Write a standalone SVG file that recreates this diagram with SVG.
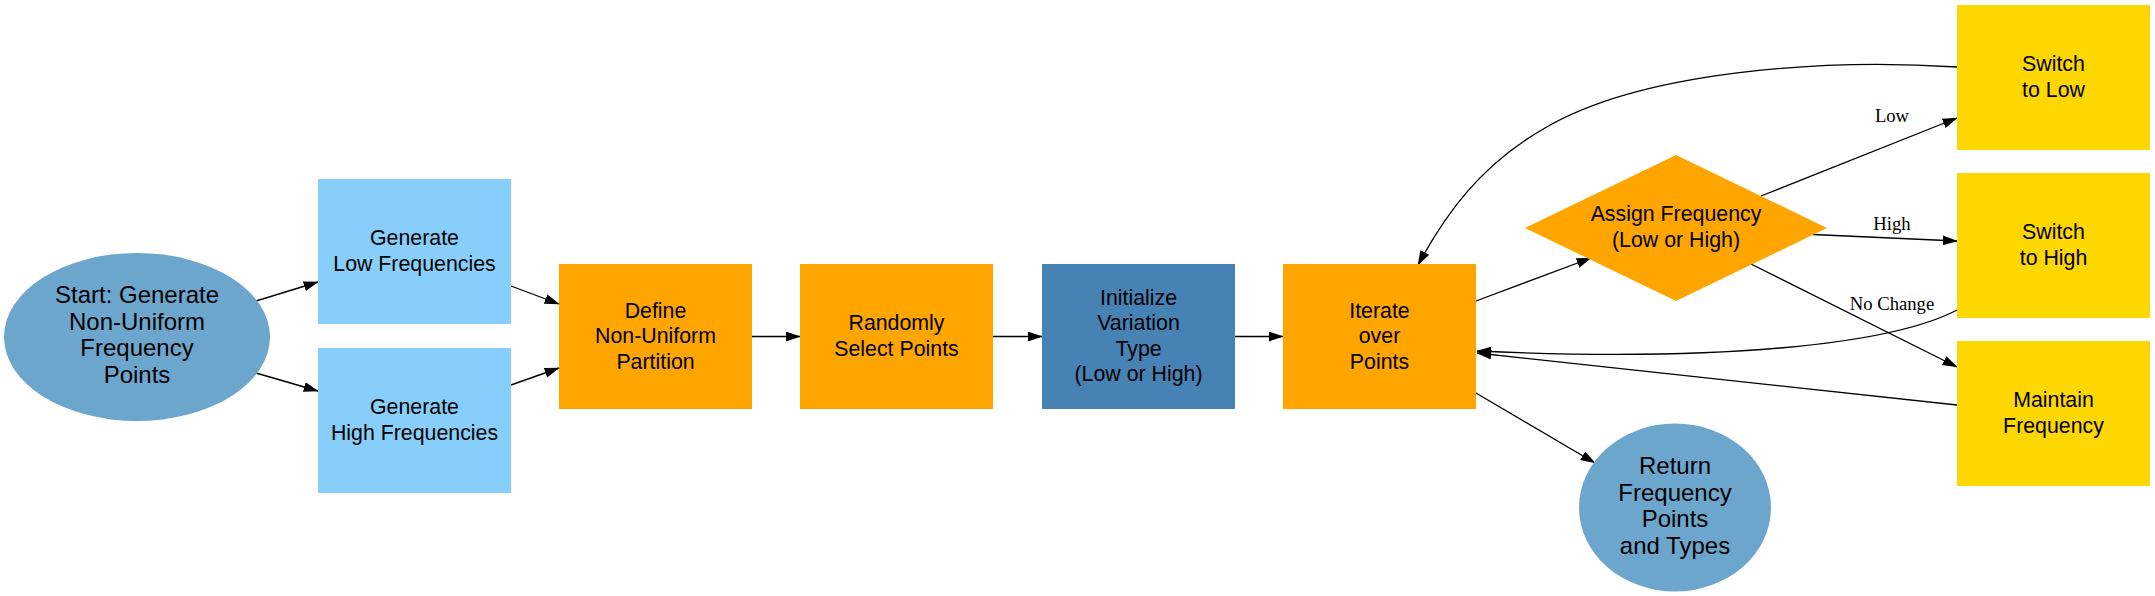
<svg xmlns="http://www.w3.org/2000/svg" width="2155" height="596" viewBox="0 0 2155 596">
<style>
.t{font-family:"Liberation Sans",Arial,sans-serif;font-size:21.33px;fill:#000;text-anchor:middle}
.tb{font-family:"Liberation Sans",Arial,sans-serif;font-size:24px;fill:#000;text-anchor:middle}
.lb{font-family:"Liberation Serif","Times New Roman",serif;font-size:18.67px;fill:#000;text-anchor:middle}
.e{fill:none;stroke:#000;stroke-width:1.33;marker-end:url(#ah)}
.lightblue{fill:#87CEFA}
.orange{fill:#FFA500}
.steel{fill:#4682B4}
.gold{fill:#FFD700}
.sky{fill:#6CA6CD}
</style>
<defs>
<marker id="ah" viewBox="0 0 15 10" markerWidth="15" markerHeight="10" refX="14.3" refY="5" orient="auto" markerUnits="userSpaceOnUse">
<path d="M0,0 L15,5 L0,10 z" fill="#000"/>
</marker>
</defs>
<rect width="2155" height="596" fill="#fff"/>
<g id="edges">
<path class="e" d="M256,301 L318,282"/>
<path class="e" d="M256,373 L318,391"/>
<path class="e" d="M511,286 L559,304"/>
<path class="e" d="M511,385 L559,368"/>
<path class="e" d="M752,336.5 L800,336.5"/>
<path class="e" d="M993,336.5 L1042,336.5"/>
<path class="e" d="M1235,336.5 L1283,336.5"/>
<path class="e" d="M1476,301 L1591,258"/>
<path class="e" d="M1761,196 L1957,118"/>
<path class="e" d="M1813,234.5 L1957,241"/>
<path class="e" d="M1751,264 L1957,367"/>
<path class="e" d="M1957,67 C1820,58 1640,72 1545,128 C1480,165 1445,215 1418,265"/>
<path class="e" d="M1957,310 C1890,345 1720,362 1477,351"/>
<path class="e" d="M1957,405 L1477,353"/>
<path class="e" d="M1476,393 L1595,463"/>
<text class="lb" x="1892" y="122">Low</text>
<text class="lb" x="1892" y="230">High</text>
<text class="lb" x="1892" y="310">No Change</text>
</g>
<g id="start">
<ellipse class="sky" cx="137" cy="337" rx="133" ry="84"/>
<text class="tb" x="137" y="303">Start: Generate</text>
<text class="tb" x="137" y="329.5">Non-Uniform</text>
<text class="tb" x="137" y="356">Frequency</text>
<text class="tb" x="137" y="382.5">Points</text>
</g>
<g id="genLow">
<rect class="lightblue" x="318" y="179" width="193" height="145"/>
<text class="t" x="414.5" y="245">Generate</text>
<text class="t" x="414.5" y="270.5">Low Frequencies</text>
</g>
<g id="genHigh">
<rect class="lightblue" x="318" y="348" width="193" height="145"/>
<text class="t" x="414.5" y="414">Generate</text>
<text class="t" x="414.5" y="439.5">High Frequencies</text>
</g>
<g id="define">
<rect class="orange" x="559" y="264" width="193" height="145"/>
<text class="t" x="655.5" y="317.5">Define</text>
<text class="t" x="655.5" y="343">Non-Uniform</text>
<text class="t" x="655.5" y="368.5">Partition</text>
</g>
<g id="select">
<rect class="orange" x="800" y="264" width="193" height="145"/>
<text class="t" x="896.5" y="330">Randomly</text>
<text class="t" x="896.5" y="355.5">Select Points</text>
</g>
<g id="init">
<rect class="steel" x="1042" y="264" width="193" height="145"/>
<text class="t" x="1138.5" y="304.5">Initialize</text>
<text class="t" x="1138.5" y="330">Variation</text>
<text class="t" x="1138.5" y="355.5">Type</text>
<text class="t" x="1138.5" y="381">(Low or High)</text>
</g>
<g id="iterate">
<rect class="orange" x="1283" y="264" width="193" height="145"/>
<text class="t" x="1379.5" y="317.5">Iterate</text>
<text class="t" x="1379.5" y="343">over</text>
<text class="t" x="1379.5" y="368.5">Points</text>
</g>
<g id="assign">
<polygon class="orange" points="1525,228 1676,155 1827,228 1676,301"/>
<text class="t" x="1676" y="221">Assign Frequency</text>
<text class="t" x="1676" y="246.5">(Low or High)</text>
</g>
<g id="switchLow">
<rect class="gold" x="1957" y="5" width="193" height="145"/>
<text class="t" x="2053.5" y="71">Switch</text>
<text class="t" x="2053.5" y="96.5">to Low</text>
</g>
<g id="switchHigh">
<rect class="gold" x="1957" y="173" width="193" height="145"/>
<text class="t" x="2053.5" y="239">Switch</text>
<text class="t" x="2053.5" y="264.5">to High</text>
</g>
<g id="maintain">
<rect class="gold" x="1957" y="341" width="193" height="145"/>
<text class="t" x="2053.5" y="407">Maintain</text>
<text class="t" x="2053.5" y="432.5">Frequency</text>
</g>
<g id="return">
<ellipse class="sky" cx="1675" cy="507.5" rx="96" ry="84"/>
<text class="tb" x="1675" y="474">Return</text>
<text class="tb" x="1675" y="500.5">Frequency</text>
<text class="tb" x="1675" y="527">Points</text>
<text class="tb" x="1675" y="553.5">and Types</text>
</g>
</svg>
